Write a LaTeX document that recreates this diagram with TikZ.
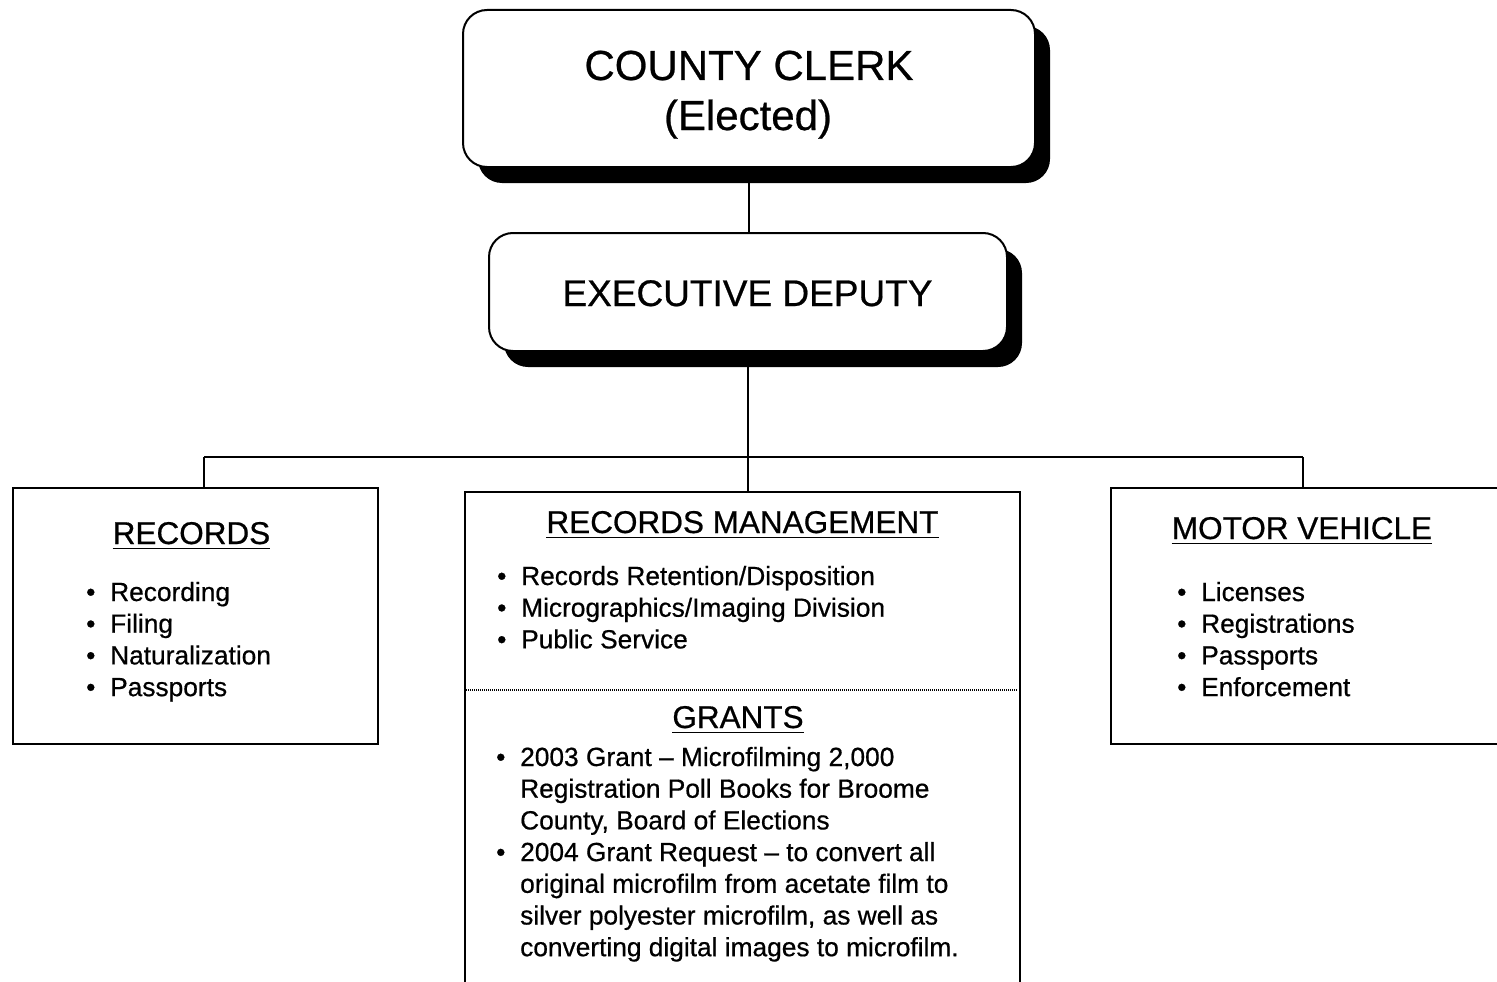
\documentclass[tikz,border=0pt]{standalone}
\usepackage{fontspec}
\setmainfont{Liberation Sans}[FakeBold=0.6]
\usetikzlibrary{shadows}
\newlength{\bulw}
\setlength{\bulw}{24pt}
\newcommand{\itm}[1]{\makebox[\bulw][l]{\textbullet}#1}
\newcommand{\cnt}[1]{\hspace*{\bulw}#1}
\begin{document}
\begin{tikzpicture}[x=1pt,y=-1pt,
  rbox/.style={draw, line width=2pt, rounded corners=24pt, fill=white,
    drop shadow={shadow xshift=15pt, shadow yshift=-16pt, opacity=1, fill=black}, inner sep=0pt},
  sbox/.style={draw, line width=2pt, fill=white, inner sep=0pt},
  conn/.style={line width=1.5pt},
  dotline/.style={line width=1.1pt, dash pattern=on 1pt off 1pt},
  bigtxt/.style={inner sep=0pt, anchor=base},
  hdr/.style={inner sep=0pt, anchor=base, font=\fontsize{31.5}{38}\selectfont},
  uline/.style={line width=1.8pt},
  lst/.style={inner sep=0pt, anchor=base west, font=\fontsize{26.3}{31.7}\selectfont}
]
\useasboundingbox (0,0) rectangle (1497,982);

% boxes
\node[rbox, minimum width=572pt, minimum height=157pt] (cc) at (749,88.5) {};
\node[rbox, minimum width=518pt, minimum height=118pt] (ed) at (748,292) {};
\node[sbox, minimum width=365pt, minimum height=256pt] (rec) at (195.5,616) {};
\node[sbox, minimum width=555pt, minimum height=518pt] (rm) at (742.5,751) {};
\node[sbox, minimum width=419pt, minimum height=256pt] (mv) at (1320.5,616) {};

% connectors
\coordinate (bus) at (748,457);
\coordinate (busL) at (204,457);
\coordinate (busR) at (1303,457);
\draw[conn] (cc.south -| 749,0) -- (ed.north -| 749,0);
\draw[conn] (ed.south) -- (bus);
\draw[conn] (busL) -- (busR);
\draw[conn] (busL) -- (busL |- rec.north);
\draw[conn] (bus) -- (bus |- rm.north);
\draw[conn] (busR) -- (busR |- mv.north);

% divider in records management box
\coordinate (dl) at (466,690);
\coordinate (dr) at (1018,690);
\draw[dotline] (dl) -- (dr);

% top texts
\node[bigtxt, font=\fontsize{42}{50}\selectfont] (cct1) at (749,80) {COUNTY CLERK};
\node[bigtxt, font=\fontsize{42}{50}\selectfont] (cct2) at (748,130) {(Elected)};
\node[bigtxt, font=\fontsize{37}{44}\selectfont] (edt) at (747.5,306) {EXECUTIVE DEPUTY};

% headers
\node[hdr] (rech) at (191.5,544) {RECORDS};
\node[hdr] (rmh) at (742.5,533) {RECORDS MANAGEMENT};
\node[hdr] (grh) at (738,728) {GRANTS};
\node[hdr] (mvh) at (1302,539) {MOTOR VEHICLE};
\foreach \h in {rech,rmh,grh,mvh}
  \draw[uline] ([yshift=-4.5pt]\h.base west) -- ([yshift=-4.5pt]\h.base east);

% lists
\node[lst] (recl) at (86,601) {\begin{tabular}[t]{@{}l@{}}
\itm{Recording}\\ \itm{Filing}\\ \itm{Naturalization}\\ \itm{Passports}
\end{tabular}};
\node[lst] (rml) at (497,585) {\begin{tabular}[t]{@{}l@{}}
\itm{Records Retention/Disposition}\\ \itm{Micrographics/Imaging Division}\\ \itm{Public Service}
\end{tabular}};
\node[lst] (grl) at (496,766) {\begin{tabular}[t]{@{}l@{}}
\itm{2003 Grant -- Microfilming 2,000}\\
\cnt{Registration Poll Books for Broome}\\
\cnt{County, Board of Elections}\\
\itm{2004 Grant Request -- to convert all}\\
\cnt{original microfilm from acetate film to}\\
\cnt{silver polyester microfilm, as well as}\\
\cnt{converting digital images to microfilm.}
\end{tabular}};
\node[lst] (mvl) at (1177,601) {\begin{tabular}[t]{@{}l@{}}
\itm{Licenses}\\ \itm{Registrations}\\ \itm{Passports}\\ \itm{Enforcement}
\end{tabular}};
\end{tikzpicture}
\end{document}
